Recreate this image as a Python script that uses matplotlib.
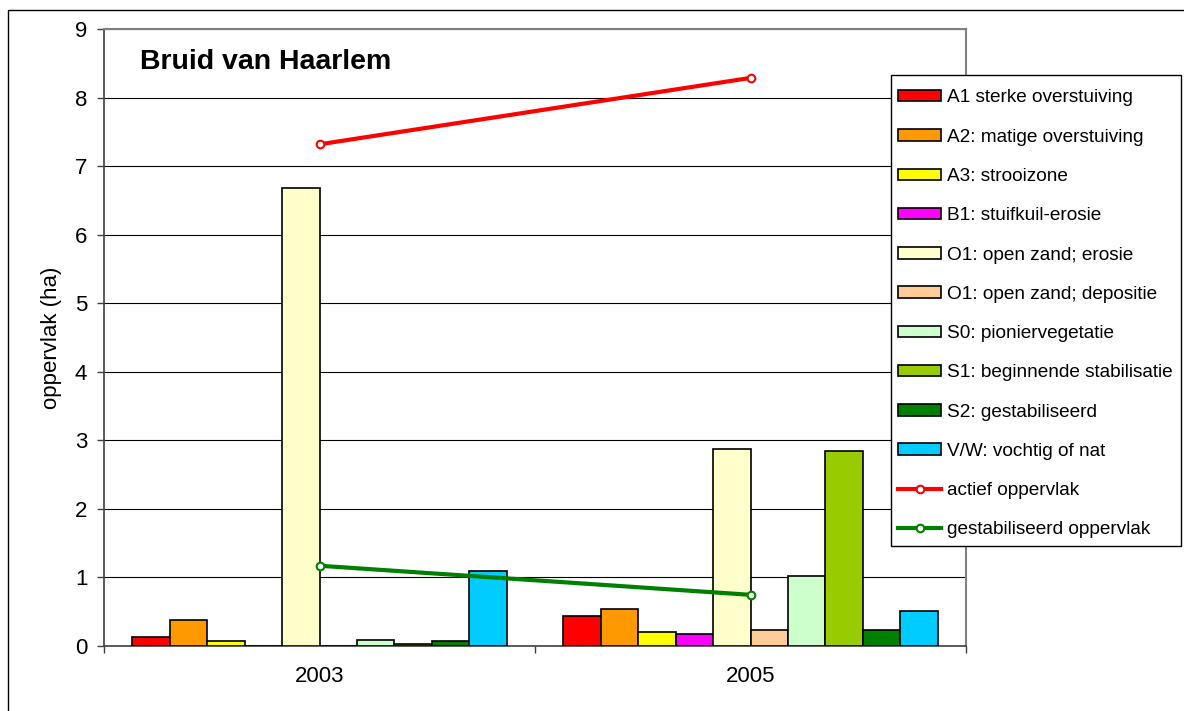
import matplotlib
matplotlib.use("Agg")
import matplotlib.pyplot as plt
import numpy as np
from matplotlib.patches import Patch, Rectangle
from matplotlib.lines import Line2D

plt.rcParams['font.family'] = ['Liberation Sans', 'DejaVu Sans']

years = ["2003", "2005"]
classes = [
    "A1 sterke overstuiving",
    "A2: matige overstuiving",
    "A3: strooizone",
    "B1: stuifkuil-erosie",
    "O1: open zand; erosie",
    "O1: open zand; depositie",
    "S0: pioniervegetatie",
    "S1: beginnende stabilisatie",
    "S2: gestabiliseerd",
    "V/W: vochtig of nat",
]
colors = ["#FF0000", "#FF9900", "#FFFF00", "#FF00FF", "#FFFFCC",
          "#FFCC99", "#CCFFCC", "#99CC00", "#008000", "#00CCFF"]

# area per class (ha) for 2003 and 2005
area_2003 = [0.13, 0.37, 0.07, 0.0, 6.68, 0.0, 0.08, 0.02, 0.07, 1.09]
area_2005 = [0.435, 0.53, 0.20, 0.17, 2.87, 0.22, 1.015, 2.845, 0.22, 0.51]

actief = [7.32, 8.29]
gestabiliseerd = [1.165, 0.74]

fig = plt.figure(figsize=(11.84, 7.11), dpi=100)
W, H = 1184, 711
ax = fig.add_axes([104 / W, 1 - 645.5 / H, 862 / W, (645.5 - 29.3) / H])

# outer chart frame
fig.patches.append(Rectangle((8 / W, -0.2), 1.5, 1.2 - 10 / H,
                             transform=fig.transFigure, fill=False,
                             edgecolor="#000000", linewidth=1.0))

x = np.arange(len(years))
n = len(classes)
w = 1.0 / (n + 1.5)
values = np.array([area_2003, area_2005])
for i in range(n):
    ax.bar(x + (i - (n - 1) / 2) * w, values[:, i], width=w,
           color=colors[i], edgecolor="black", linewidth=1.2, zorder=3)

ax.plot(x, actief, color="#FF0000", lw=3, marker="o", ms=5.5,
        mfc="white", mec="#FF0000", mew=1.5, zorder=5)
ax.plot(x, gestabiliseerd, color="#008000", lw=3, marker="o", ms=5.5,
        mfc="white", mec="#008000", mew=1.5, zorder=5)

ax.set_xlim(-0.5, 1.5)
ax.set_ylim(0, 9)
ax.set_yticks(range(0, 10))
ax.yaxis.grid(True, color="black", linewidth=0.8, zorder=0)
ax.set_axisbelow(True)

ax.set_xticks(x)
ax.set_xticklabels(years)
ax.set_xticks([-0.5, 0.5, 1.5], minor=True)
ax.tick_params(axis="x", which="major", length=0, pad=15, labelsize=16)
ax.tick_params(axis="x", which="minor", length=5, width=1, color="#404040")
ax.tick_params(axis="y", length=5, width=1, color="#404040", pad=7,
               labelsize=16)

for side in ("top", "right"):
    ax.spines[side].set_color("#808080")
    ax.spines[side].set_linewidth(1.5)
ax.spines["left"].set_color("#404040")
ax.spines["bottom"].set_color("#404040")
ax.spines["left"].set_linewidth(1.2)
ax.spines["bottom"].set_linewidth(1.2)

ax.set_ylabel("oppervlak (ha)", fontsize=16)
ax.yaxis.set_label_coords((62 - 104) / 862, 0.5)

ax.text((140 - 104) / 862, (645.5 - 69) / (645.5 - 29.3), "Bruid van Haarlem",
        transform=ax.transAxes, fontsize=20.5, fontweight="bold",
        ha="left", va="baseline")

handles = [Patch(facecolor=c, edgecolor="black", linewidth=1.2) for c in colors]
handles += [
    Line2D([], [], color="#FF0000", lw=3, marker="o", ms=5.5, mfc="white",
           mec="#FF0000", mew=1.5),
    Line2D([], [], color="#008000", lw=3, marker="o", ms=5.5, mfc="white",
           mec="#008000", mew=1.5),
]
labels = classes + ["actief oppervlak", "gestabiliseerd oppervlak"]
extra_top = 6  # extra top padding (px) inside the legend box
leg = fig.legend(handles, labels, loc="upper left",
                 bbox_to_anchor=(890.5 / W, 1 - (75.5 + extra_top) / H),
                 bbox_transform=fig.transFigure, borderaxespad=0,
                 fontsize=13.7, handlelength=2.26, handleheight=0.55,
                 handletextpad=0.3, labelspacing=1.17, borderpad=0.42,
                 fancybox=False, frameon=False)

# legend frame with a little more room above the first entry
fig.canvas.draw()
bb = leg.get_window_extent()
fig.patches.append(Rectangle((bb.x0 / W, bb.y0 / H),
                             bb.width / W, (bb.height + extra_top) / H,
                             transform=fig.transFigure, facecolor="white",
                             edgecolor="black", linewidth=1.0, zorder=4))
leg.set_zorder(5)

fig.savefig("out.png", dpi=100)
